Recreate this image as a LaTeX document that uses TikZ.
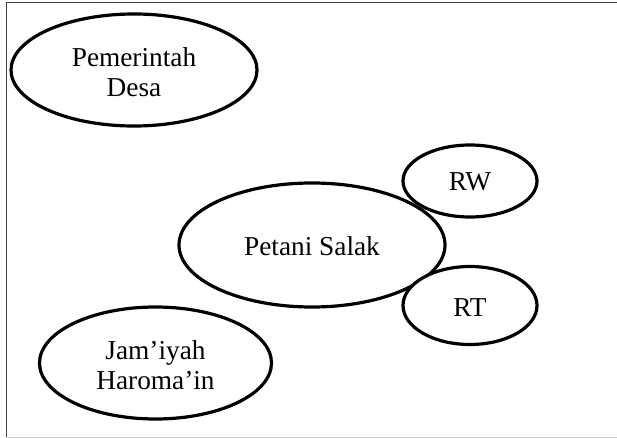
\documentclass[tikz,border=0pt]{standalone}
\usepackage{fontspec}
\setmainfont{Liberation Serif}
\usetikzlibrary{shapes.geometric}
\begin{document}
\begin{tikzpicture}[x=1pt,y=-1pt,
  oval/.style={draw=black,line width=3.2pt,fill=white},
  lbl/.style={align=center,font=\fontsize{27.3}{29.5}\selectfont,inner sep=0pt}]
\useasboundingbox (0,0) rectangle (617,438);
% page frame
\draw[line width=1.4pt,black!75] (617,2.5) -- (6.5,2.5) -- (6.5,437);
\draw[line width=1pt,black!20] (6.5,437) -- (617,437);
% ovals
\draw[oval] (134,70) ellipse [x radius=123, y radius=56];
\draw[oval] (312,245) ellipse [x radius=133, y radius=62];
\draw[oval] (470,181) ellipse [x radius=67, y radius=36];
\draw[oval] (470,305.5) ellipse [x radius=67, y radius=39];
\draw[oval] (155.5,363) ellipse [x radius=116, y radius=56];
% labels
\node[lbl] (desa) at (134,72) {Pemerintah\\Desa};
\node[lbl] (petani) at (312,246) {Petani Salak};
\node[lbl] (rw) at (470,182) {RW};
\node[lbl] (rt) at (470,308) {RT};
\node[lbl] (jamiyah) at (155.5,365) {Jam’iyah\\Haroma’in};
\end{tikzpicture}
\end{document}
